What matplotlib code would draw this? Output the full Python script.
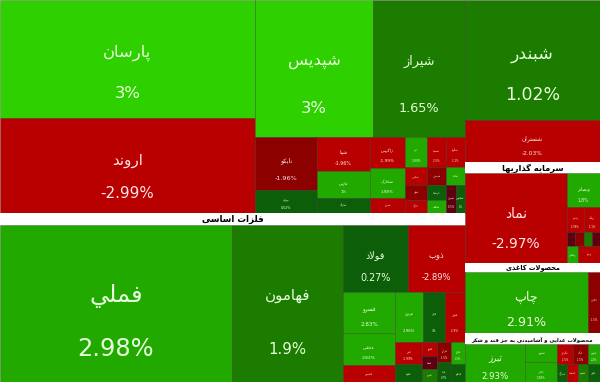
import matplotlib
matplotlib.use("Agg")
import matplotlib.pyplot as plt
from matplotlib.patches import Rectangle

# symbols, last-price change (%), closing-price change (%) and market value
tickers = [
    "پارسان", "اروند", "شپدیس", "شیراز", "نایکو", "نوری", "شپنا", "فارس",
    "شاراک", "زاگرس", "شخارک", "شبریز", "جم", "شکربن", "شفن", "خارک",
    "شسینا", "شصدف", "کرماشا", "شلعاب", "شگویا", "شاملا", "شیران", "شفارس",
    "فملي", "فهامون", "فولاد", "ذوب", "فسرو", "فخاس", "فاسمین", "فروی",
    "فجر", "فنوال", "فزر", "فلوله", "فخوز", "فسپا", "فنورد", "فرآور",
    "فپنتا", "فجام", "فباهنر",
    "شبندر", "شستران",
    "نماد", "وبصادر", "وغدير", "وبانک", "ونیکی", "وتوسم", "وصنا", "وساپا",
    "ومعادن", "وپترو",
    "چاپ", "چکارن",
    "تبرز", "غبشهر", "غالبر", "غگرجی", "غپاک", "غمارگ", "غدشت", "غشهد",
    "غنوش", "غچین",
]
change = [
    3.00, -2.99, 3.00, 1.65, -1.96, 0.52, -1.96, 1.00,
    0.41, -1.99, 1.98, -2.21, 1.99, -2.88, -1.20, -2.52,
    -2.50, -1.50, 1.50, 2.00, -2.10, 2.50, -0.50, 1.00,
    2.98, 1.90, 0.27, -2.89, 2.83, 2.82, -2.50, 2.96,
    3.00, -2.90, -1.99, 0.60, -2.30, -0.60, 1.20, -1.50,
    0.70, 2.10, 0.30,
    1.02, -2.03,
    -2.97, 1.80, -2.99, -2.10, -0.50, -1.50, 1.20, -0.40,
    2.10, -2.50,
    2.91, -1.50,
    2.93, 1.99, 1.98, -2.50, -1.50, 0.50, -2.20, 1.20,
    2.20, 0.40,
]
close_change = [
    3.00, -2.99, 3.00, 1.65, -1.60, 0.50, -2.50, 2.10,
    0.40, -2.50, 2.20, -2.50, 2.20, -2.50, -1.50, -2.50,
    -2.50, -1.50, 0.50, 2.20, -2.20, 2.50, -0.50, 0.50,
    2.50, 1.50, 0.27, -2.89, 2.50, 2.50, -2.50, 2.60,
    0.80, -2.90, -2.50, 0.60, -2.30, -0.60, 1.20, -1.50,
    0.70, 2.10, 0.30,
    1.50, -2.50,
    -2.97, 2.20, -2.99, -2.10, -0.50, -1.50, 1.20, -0.40,
    2.10, -2.50,
    2.60, -1.50,
    2.60, 2.20, 2.20, -2.50, -1.50, 0.50, -2.20, 1.20,
    2.20, 0.40,
]
value = [
    30090, 24225, 16166, 12604, 3286, 1426, 1802, 1431,
    795, 1085, 1050, 525, 660, 396, 330, 286,
    570, 342, 285, 247, 570, 342, 280, 252,
    36424, 17427, 4355, 3819, 2132, 1664, 884, 1400,
    1100, 1000, 594, 486, 210, 195, 195, 280,
    280, 308, 252,
    16200, 5670,
    9180, 1122, 425, 400, 112, 112, 112, 112,
    187, 374,
    7503, 732,
    2280, 576, 640, 320, 300, 180, 198, 180,
    240, 216,
]

# nesting of the treemap (groups, rows and columns)
tree = ("h", [
    ("v", [
        ("g", None, ("h", [
            ("v", ["پارسان", "اروند"]),
            ("v", [("h", ["شپدیس", "شیراز"]),
                   ("h", [("v", ["نایکو", "نوری"]),
                          ("v", ["شپنا", "فارس", "شاراک"]),
                          ("v", ["زاگرس", "شخارک", "شبریز"]),
                          ("v", ["جم", "شکربن", "شفن", "خارک"]),
                          ("v", ["شسینا", "شصدف", "کرماشا", "شلعاب"]),
                          ("v", ["شگویا", "شاملا", ("h", ["شیران", "شفارس"])])])]),
        ])),
        ("g", "فلزات اساسی", ("h", [
            "فملي", "فهامون",
            ("v", [("h", ["فولاد", "ذوب"]),
                   ("h", [("v", ["فسرو", "فخاس", "فاسمین"]),
                          ("v", [("h", ["فروی", "فجر", "فنوال"]),
                                 ("h", [("v", ["فزر", "فلوله"]),
                                        ("v", ["فخوز", "فسپا", "فنورد"]),
                                        ("v", ["فرآور", "فپنتا"]),
                                        ("v", ["فجام", "فباهنر"])])])])]),
        ])),
    ]),
    ("v", [
        ("g", None, ("v", ["شبندر", "شستران"])),
        ("g", "سرمایه گذاریها", ("h", [
            "نماد",
            ("v", ["وبصادر", ("h", ["وغدير", "وبانک"]),
                   ("h", ["ونیکی", "وتوسم", "وصنا", "وساپا"]),
                   ("h", ["ومعادن", "وپترو"])]),
        ])),
        ("g", "محصولات کاغذی", ("h", ["چاپ", "چکارن"])),
        ("g", "محصولات غذایی و آشامیدنی به جز قند و شکر", ("h", [
            "تبرز", ("v", ["غبشهر", "غالبر"]),
            ("v", [("h", ["غگرجی", "غپاک"]), ("h", ["غمارگ", "غدشت", "غشهد"])]),
            ("v", ["غنوش", "غچین"]),
        ])),
    ]),
])

header_h = {"فلزات اساسی": 12, "سرمایه گذاریها": 11, "محصولات کاغذی": 9,
            "محصولات غذایی و آشامیدنی به جز قند و شکر": 11}
header_fs = {"فلزات اساسی": 6.3, "سرمایه گذاریها": 6.0, "محصولات کاغذی": 4.8,
             "محصولات غذایی و آشامیدنی به جز قند و شکر": 3.9}
# label sizes of the larger tiles
label_fs = {"فملي": 17.4, "پارسان": 11.8, "شپدیس": 11.8, "شبندر": 12.5,
            "شیراز": 9.2, "اروند": 10.9, "نماد": 9.9, "چاپ": 9.1,
            "فولاد": 6.9, "ذوب": 6.0, "فهامون": 10.8, "نایکو": 4.6,
            "تبرز": 6.2}

# --- minimal Persian shaping (matplotlib has no complex text layout) ---
FORMS = {
    "ا": (0xFE8D, 0xFE8E), "آ": (0xFE81, 0xFE82), "د": (0xFEA9, 0xFEAA),
    "ذ": (0xFEAB, 0xFEAC), "ر": (0xFEAD, 0xFEAE), "ز": (0xFEAF, 0xFEB0),
    "ژ": (0xFB8A, 0xFB8B), "و": (0xFEED, 0xFEEE),
    "ب": (0xFE8F, 0xFE90, 0xFE91, 0xFE92), "پ": (0xFB56, 0xFB57, 0xFB58, 0xFB59),
    "ت": (0xFE95, 0xFE96, 0xFE97, 0xFE98), "ث": (0xFE99, 0xFE9A, 0xFE9B, 0xFE9C),
    "ج": (0xFE9D, 0xFE9E, 0xFE9F, 0xFEA0), "چ": (0xFB7A, 0xFB7B, 0xFB7C, 0xFB7D),
    "ح": (0xFEA1, 0xFEA2, 0xFEA3, 0xFEA4), "خ": (0xFEA5, 0xFEA6, 0xFEA7, 0xFEA8),
    "س": (0xFEB1, 0xFEB2, 0xFEB3, 0xFEB4), "ش": (0xFEB5, 0xFEB6, 0xFEB7, 0xFEB8),
    "ص": (0xFEB9, 0xFEBA, 0xFEBB, 0xFEBC), "ض": (0xFEBD, 0xFEBE, 0xFEBF, 0xFEC0),
    "ط": (0xFEC1, 0xFEC2, 0xFEC3, 0xFEC4), "ع": (0xFEC9, 0xFECA, 0xFECB, 0xFECC),
    "غ": (0xFECD, 0xFECE, 0xFECF, 0xFED0), "ف": (0xFED1, 0xFED2, 0xFED3, 0xFED4),
    "ق": (0xFED5, 0xFED6, 0xFED7, 0xFED8), "ک": (0xFB8E, 0xFB8F, 0xFB90, 0xFB91),
    "گ": (0xFB92, 0xFB93, 0xFB94, 0xFB95), "ل": (0xFEDD, 0xFEDE, 0xFEDF, 0xFEE0),
    "م": (0xFEE1, 0xFEE2, 0xFEE3, 0xFEE4), "ن": (0xFEE5, 0xFEE6, 0xFEE7, 0xFEE8),
    "ه": (0xFEE9, 0xFEEA, 0xFEEB, 0xFEEC), "ی": (0xFBFC, 0xFBFD, 0xFBFE, 0xFBFF),
    "ي": (0xFEF1, 0xFEF2, 0xFEF3, 0xFEF4),
}
LAM_ALEF = {"ا": (0xFEFB, 0xFEFC), "آ": (0xFEF5, 0xFEF6)}


def shape(s):
    out = []
    i = 0
    while i < len(s):
        c = s[i]
        joins_prev = i > 0 and len(FORMS.get(s[i - 1], ())) == 4
        if c == "ل" and i + 1 < len(s) and s[i + 1] in LAM_ALEF:
            lig = LAM_ALEF[s[i + 1]]
            out.append(chr(lig[1] if joins_prev else lig[0]))
            i += 2
            continue
        f = FORMS.get(c)
        if f is None:
            out.append(c)
        elif len(f) == 2:
            out.append(chr(f[1] if joins_prev else f[0]))
        else:
            joins_next = i + 1 < len(s) and s[i + 1] in FORMS
            if joins_prev and joins_next:
                out.append(chr(f[3]))
            elif joins_prev:
                out.append(chr(f[1]))
            elif joins_next:
                out.append(chr(f[2]))
            else:
                out.append(chr(f[0]))
        i += 1
    return "".join(reversed(out))


# --- slice-and-dice layout driven by the values ---
idx = {t: i for i, t in enumerate(tickers)}


def weight(node):
    if isinstance(node, str):
        return value[idx[node]]
    if node[0] == "g":
        return weight(node[2])
    return sum(weight(c) for c in node[1])


def head(node):
    if isinstance(node, str):
        return 0
    if node[0] == "g":
        return header_h.get(node[1], 0) + head(node[2])
    if node[0] == "v":
        return sum(head(c) for c in node[1])
    return max(head(c) for c in node[1])


cells, headers = [], []


def layout(node, x, y, w, h):
    if isinstance(node, str):
        cells.append((idx[node], x, y, w, h))
        return
    if node[0] == "g":
        hh = header_h.get(node[1], 0)
        if hh:
            headers.append((node[1], x, y, w, hh))
        layout(node[2], x, y + hh, w, h - hh)
        return
    kids = node[1]
    if node[0] == "v":
        avail = h - sum(head(c) for c in kids)
        tot = sum(weight(c) for c in kids)
        for c in kids:
            ch = head(c) + avail * weight(c) / tot
            layout(c, x, y, w, ch)
            y += ch
    else:
        r = [weight(c) / (h - head(c)) for c in kids]
        for c, rc in zip(kids, r):
            cw = w * rc / sum(r)
            layout(c, x, y, cw, h)
            x += cw


W, H = 600, 382
layout(tree, 0, 0, W, H)


def fill_color(v):
    if v >= 2.95:
        return "#2fd000"
    if v >= 2.0:
        return "#22a900"
    if v >= 1.0:
        return "#1c7c00"
    if v >= 0:
        return "#0d5e08"
    if v > -1.0:
        return "#5e0010"
    if v > -2.0:
        return "#8c0000"
    return "#b80000"


fig = plt.figure(figsize=(6, 3.82), dpi=100)
ax = fig.add_axes([0, 0, 1, 1])
ax.set_xlim(0, W)
ax.set_ylim(H, 0)
ax.axis("off")

for i, x, y, w, h in cells:
    ax.add_patch(Rectangle((x, y), w, h, facecolor=fill_color(close_change[i]),
                           edgecolor=(0, 0, 0, 0.35), linewidth=0.5))
    if w < 9 or h < 9:
        continue
    label = shape(tickers[i])
    pct = f"{change[i]:g}%"
    fs = label_fs.get(tickers[i], 0.10 * min(w, h))
    fs = min(fs, 0.85 * w / (0.6 * 1.389 * max(len(tickers[i]), len(pct))))
    fs = max(fs, 1.8)
    tc = "#e6ffdc" if close_change[i] >= 0 else "#ffe6e6"
    cx = x + w / 2
    if h < 20:
        ax.text(cx, y + h / 2, label, ha="center", va="center", fontsize=fs,
                color=tc, family="DejaVu Sans")
        continue
    gap = max(0.34 * h, 2.0 * fs * 1.389)
    cy = y + 0.62 * h
    ax.text(cx, cy - gap / 2, label, ha="center", va="center", fontsize=fs,
            color=tc, family="DejaVu Sans")
    ax.text(cx, cy + gap / 2, pct, ha="center", va="center", fontsize=fs,
            color=tc, family="DejaVu Sans")

for title, x, y, w, h in headers:
    ax.add_patch(Rectangle((x, y), w, h, facecolor="white", edgecolor="none"))
    ax.text(x + w / 2, y + h / 2 + 0.5, shape(title), ha="center", va="center",
            fontsize=header_fs[title], fontweight="bold", color="black",
            family="DejaVu Sans")

fig.savefig("out.png", dpi=100)
